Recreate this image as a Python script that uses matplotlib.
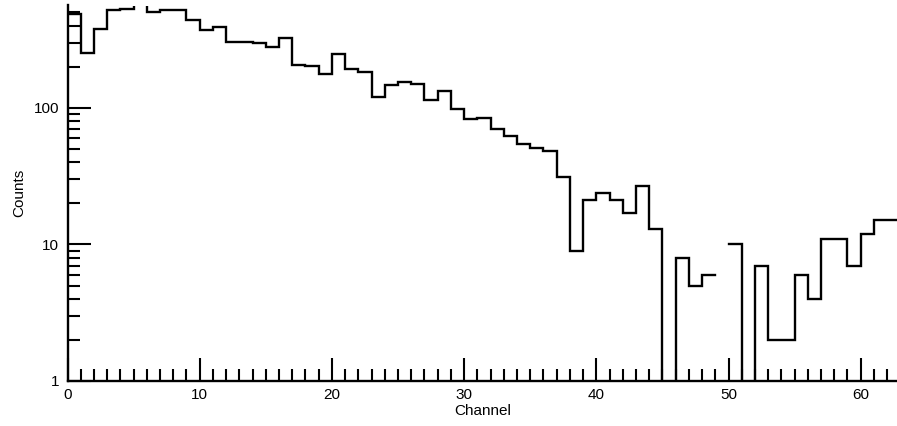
import numpy as np
import matplotlib
matplotlib.use("Agg")
import matplotlib.pyplot as plt
from matplotlib.ticker import LogLocator, MultipleLocator, NullFormatter, FixedLocator

plt.rcParams['font.family'] = ['Liberation Sans', 'DejaVu Sans']

# Counts per channel (NaN = missing bin, 0 = empty bin)
counts = [489, 252, 381, 520, 531, 650, 501, 522, 522, 441,
          373, 394, 303, 303, 300, 277, 324, 207, 204, 177,
          249, 192, 182, 121, 147, 154, 149, 115, 133, 98,
          83, 85, 70, 62, 54, 51, 48, 31, 9, 21,
          24, 21, 17, 27, 13, 0, 8, 5, 6, np.nan,
          10, 0, 7, 2, 2, 6, 4, 11, 11, 7,
          12, 15, 15]
x_ticks = [0, 10, 20, 30, 40, 50, 60]
y_ticks = [1, 10, 100]
y_tick_labels = ["1", "10", "100"]

counts = np.array(counts, dtype=float)
edges = np.arange(len(counts) + 1)

W, H = 897, 426
fig = plt.figure(figsize=(W / 100, H / 100), dpi=100)
left_px, right_px, bottom_px, top_px = 67.5, 67.5 + 63 * 13.22, 381, 5.5
ax = fig.add_axes([left_px / W, (H - bottom_px) / H,
                   (right_px - left_px) / W, (bottom_px - top_px) / H])

ax.step(edges, np.append(counts, counts[-1]), where='post',
        color='black', lw=1.7, solid_joinstyle='miter')

ax.set_yscale('log')
ax.set_xlim(0, 63)
ax.set_ylim(1, 562)

for s in ['top', 'right']:
    ax.spines[s].set_visible(False)
for s in ['left', 'bottom']:
    ax.spines[s].set_linewidth(1.7)

ax.xaxis.set_major_locator(FixedLocator(x_ticks))
ax.xaxis.set_minor_locator(MultipleLocator(1))
ax.yaxis.set_major_locator(FixedLocator(y_ticks))
ax.set_yticklabels(y_tick_labels)
ax.yaxis.set_minor_locator(LogLocator(base=10, subs=np.arange(2, 10)))
ax.yaxis.set_minor_formatter(NullFormatter())

ax.tick_params(axis='both', which='major', direction='in', length=16.5, width=1.5,
               labelsize=11, color='black')
ax.tick_params(axis='both', which='minor', direction='in', length=8.5, width=1.5,
               color='black')
ax.tick_params(axis='x', which='major', pad=5)
ax.tick_params(axis='y', which='major', pad=6)

fig.text(483 / W, (H - 411) / H, "Channel", ha='center', va='center', fontsize=11)
fig.text(19 / W, (H - 193) / H, "Counts", ha='center', va='center', rotation=90,
         fontsize=11)

fig.savefig("out.png", dpi=100)
